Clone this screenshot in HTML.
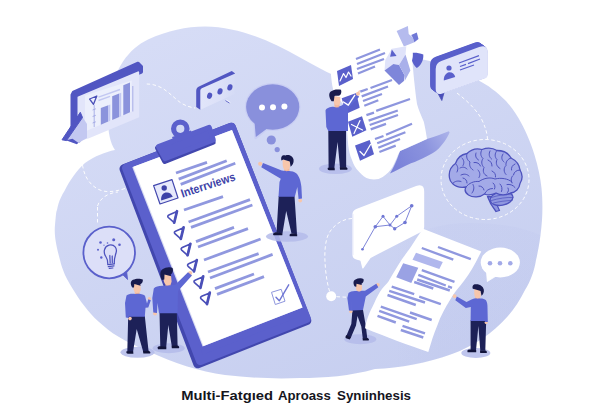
<!DOCTYPE html>
<html>
<head>
<meta charset="utf-8">
<title>Multi-Faceted Approach Synthesis</title>
<style>
html,body{margin:0;padding:0;background:#ffffff;}
body{width:600px;height:420px;overflow:hidden;position:relative;font-family:"Liberation Sans",sans-serif;}
svg{position:absolute;left:0;top:0;display:block;}
text{font-family:"Liberation Sans",sans-serif;}
</style>
</head>
<body>
<svg width="600" height="420" viewBox="0 0 600 420">
<!-- 00_blob.svg -->
<defs>
<linearGradient id="blobg" x1="200" y1="20" x2="358" y2="387" gradientUnits="userSpaceOnUse">
<stop offset="0" stop-color="#d6dcf6"/><stop offset="1" stop-color="#c7cff0"/>
</linearGradient>
<linearGradient id="blob2g" x1="395" y1="0" x2="440" y2="0" gradientUnits="userSpaceOnUse">
<stop offset="0" stop-color="#b4bcea" stop-opacity="0"/><stop offset="1" stop-color="#b4bcea" stop-opacity="0.120"/>
</linearGradient>
</defs>
<g id="blob">
<path d="M115,150 C108,140 106,120 110,95 C115,69 128,49 148,39.500 C168,30.500 186,26.500 205,26.500 C240,27 270,41 300,57.500 C320,68 335,78 350,80 C372,82 395,57 415,58.500 C440,61 460,71 478.600,80.500 C487,84.500 497,92 506,101 C513,109 518,117 521.500,123.500 C526,132 531,143 534.500,155 C538,166 540.500,178 541.500,188 C542.500,198 542.700,210 542,220 C541.300,230 540,240 538.500,248 C537.500,253 537,256 536,260 C534,272 530,282 525,290 C520,300 514.500,308.500 507.500,316.500 C493,333 473,346.500 452,354 C427,363 400,368 375,369 C350,376 325,378 300,378 C275,379 250,378 225,375 C200,372 172,362 150,352 C140,348 132,344 125,340.500 C116,335.500 109,331 102.500,325 C97,320.500 92,315.500 87.500,310 C83,304.500 79,299 75,292.500 C71,286.500 68,281 65,275 C63,270 61,265 60,260 C56,245 54,235 55,225 C56,215 56,212 57,210 C59,200 62,195 65,190 C70,180 77,170 85,163 C95,156 105,152 115,150 Z" fill="url(#blobg)"/>
</g>
<!-- 05_blob2.svg -->
<g id="blob2">
<path d="M395,245 C420,228 445,223 470,223 C497,223 520,226 540.500,235 C539.500,243 538,250 536,260 C534,272 530,282 525,290 C520,300 514.500,308.500 507.500,316.500 C493,333 473,346.500 452,354 C427,363 400,368 395,368 Z" fill="url(#blob2g)"/>
</g>
<!-- 10_dashes.svg -->
<g id="dashes" fill="none" stroke="#ffffff" stroke-width="1" stroke-dasharray="3.500 2.500" stroke-linecap="butt" opacity="0.950">
<!-- chart bubble to clipboard -->
<path d="M87.500,142 C83,150 81,158 82.500,165 C84,176 90,186 100,190 C106,192.500 114,192 125,188.500"/>
<!-- arc near bulb -->
<path d="M97.500,206 C100,198 108,193 118,192"/>
<path d="M97.500,207 L97.500,225"/>
<!-- chart bubble to right -->
<path d="M146.700,84 C153,84 160,86 166,90.700 C172,95 177,100.500 181,103 C186,106 191,107.500 195.300,108"/>
<!-- small dashes left of dots bubble -->
<!-- contact bubble to brain -->
<path d="M457,93 C466,100 475,108 481,118 C485,126 487,132 487.500,139"/>
<!-- brain circle -->
<ellipse cx="485" cy="179.500" rx="44" ry="40"/>
<!-- line chart bubble to node -->
<path d="M352,218.500 C342,219 334,225 329,233 C325,241 324.500,252 325,262 C325.500,272 327,283 329.500,291"/>
<path d="M336.500,296.700 L346,297.200"/>
</g>
<circle cx="331.200" cy="296.300" r="5" fill="#ffffff"/>
<!-- 20_chartbubble.svg -->
<g id="chartbubble">
<!-- dark slab (top + left side) -->
<path d="M73.500,92 L138,63.200 L141.500,66.500 L141.500,72 L79,98 L79,141 L72,138 L72,95 Z" fill="#5156c2" stroke="#5156c2" stroke-width="3" stroke-linejoin="round"/>
<!-- front face -->
<path d="M78.500,97.300 L138.200,72.400 L138.200,116.500 L88,137.500 L78.500,140 Z" fill="#e2e5fa" stroke="#e2e5fa" stroke-width="2" stroke-linejoin="round"/>
<!-- inner panel -->
<path d="M85,95.500 L131.700,80.500 L131.700,111.500 L85,131.500 Z" fill="#eceffc"/>
<!-- light lines -->
<path d="M98.500,97.200 L120,89.500 M98.500,100.500 L110,96.300" stroke="#c3c8f2" stroke-width="1.400" fill="none"/>
<!-- bars -->
<path d="M100.800,108 L108.300,105.200 L108.300,121.600 L100.800,124.800 Z" fill="#8b93dc"/>
<path d="M112.200,96.200 L119.200,93.500 L119.200,117 L112.200,120 Z" fill="#8b93dc"/>
<path d="M123.300,85.200 L130,82.600 L130,112.300 L123.300,115.200 Z" fill="#8b93dc"/>
<path d="M108.300,105.200 L110.300,104.500 L110.300,120.800 L108.300,121.600 Z M119.200,93.500 L121.200,92.800 L121.200,116.200 L119.200,117 Z" fill="#c3c8f2"/>
<!-- axis -->
<path d="M94.200,105 L94.200,127 M92.600,110 L95.800,108.800 M92.600,116.500 L95.800,115.300 M92.600,123 L95.800,121.800 M132.800,86 L132.800,111.500" stroke="#9aa1e2" stroke-width="0.800" fill="none"/>
<!-- check triangle -->
<path d="M89.600,99 L96.800,96 L93.500,104.300 Z" fill="none" stroke="#4a4fb8" stroke-width="1.300" stroke-linejoin="round"/>
<!-- tail -->
<path d="M80.500,114 L64,139.800 L77,143.800 L87,138 L87,124 Z" fill="#c3c8f1"/>
<path d="M80.300,112.300 L62,139.800 L66.500,140.600 L82.500,117.500 Z" fill="#5156c2" stroke="#5156c2" stroke-width="1" stroke-linejoin="round"/>
<path d="M66,140.300 L72.500,138.800 L78.300,142.800 L76.800,144.300 Z" fill="#5156c2"/>
</g>
<!-- 22_dotsbubble.svg -->
<g id="dotsbubble">
<defs>
<linearGradient id="dbg" x1="200" y1="0" x2="236" y2="0" gradientUnits="userSpaceOnUse">
<stop offset="0" stop-color="#e1e5fa" stop-opacity="1"/><stop offset="0.600" stop-color="#dde1f8" stop-opacity="0.900"/><stop offset="1" stop-color="#d8ddf7" stop-opacity="0.300"/>
</linearGradient>
</defs>
<!-- face -->
<path d="M199.500,90.500 Q199.500,88.500 201.500,87.600 L234.600,73.600 L234.600,94 L201,109.600 L199.500,108.500 Z" fill="url(#dbg)"/>
<!-- dark slab: left side + top band -->
<path d="M196.200,91 Q196.200,87.800 199,86.500 L231.800,71 L235.200,73.400 L201.800,88.200 Q200.300,88.900 200.300,90.600 L200.300,109.800 L196.200,107 Z" fill="#5156c2"/>
<ellipse cx="209.600" cy="95.700" rx="2.500" ry="3.200" fill="#5156c2" transform="rotate(18 209.600 95.700)"/>
<ellipse cx="220" cy="91.400" rx="2.500" ry="3.200" fill="#5156c2" transform="rotate(18 220 91.400)"/>
<ellipse cx="229.900" cy="87.400" rx="2.500" ry="3.200" fill="#5156c2" transform="rotate(18 229.900 87.400)"/>
<path d="M225.500,100.600 L229.500,103" stroke="#5156c2" stroke-width="0.900" fill="none"/>
<path d="M226.300,100 L230.300,102.400" stroke="#ffffff" stroke-width="0.700" fill="none"/>
</g>
<!-- 24_roundbubble.svg -->
<g id="roundbubble">
<path d="M254.500,122 L255.500,138 L268.500,127.500 Z" fill="#c9cef3" stroke="#c9cef3" stroke-width="2.400" stroke-linejoin="round"/>
<ellipse cx="272.700" cy="107" rx="27.800" ry="24" fill="#c9cef3"/>
<path d="M254.500,122 L255.800,137 L268.500,127.500 Z" fill="#8990dc"/>
<ellipse cx="272.700" cy="107" rx="26.600" ry="22.800" fill="#8990dc"/>
<circle cx="262" cy="107.600" r="3" fill="#ffffff"/>
<circle cx="273" cy="107.300" r="3" fill="#ffffff"/>
<circle cx="284.400" cy="106.500" r="3" fill="#ffffff"/>
<circle cx="271.300" cy="140" r="4.600" fill="#8990dc"/>
<circle cx="277.200" cy="149.600" r="2.600" fill="#8990dc"/>
</g>
<!-- 30_paper2.svg -->
<g id="paper2">
<defs>
<linearGradient id="curlg" x1="395" y1="165" x2="450" y2="132" gradientUnits="userSpaceOnUse">
<stop offset="0" stop-color="#7a82d9"/><stop offset="0.550" stop-color="#8b93de"/><stop offset="1" stop-color="#adb4ea"/>
</linearGradient>
</defs>
<!-- curl back -->
<path d="M400,151 C410,147 420,142.500 427,139 C436,136 443,133.500 448.800,131.200 L449.600,132.500 C447.500,137 445,141.700 438.800,148.600 C435,152 431,154.500 426.400,156.400 C421,159 416,161.500 411,163.300 C404,166.500 396,171 390,173.400 C393,169 397,160 400,151 Z" fill="url(#curlg)"/>
<!-- sheet -->
<path d="M330,52 L331,75 C331.500,80 332,85 333,89 C335,96 340,100 343,104 C345,109 346,114 346.300,119 C347,128 347.500,137 348.200,145 C349,151 350,156 352,160 C353.500,164.500 355.500,168.500 358.800,171.500 C362,175 365,178 369.700,179 C374,180 379,179.500 382.700,177 C387,174 390,171 392.400,167.200 C394.500,163 396.500,159 397.800,155.200 L400,151 L427,139 C426,132 425,127 423.800,121.700 C421,115 418.500,110 417,104 C415,90 413,70 412,56 L408,30 Z" fill="#ffffff"/>
<!-- boxes -->
<path d="M337,71 L351,65 L353,79 L339,86 Z" fill="#5a60cb"/>
<path d="M340,81 L343.500,73.500 L346,77.500 L348.500,72 L351,76" fill="none" stroke="#ffffff" stroke-width="1.200" stroke-linejoin="round" stroke-linecap="round"/>
<path d="M341.700,98.300 L356.300,93 L359.700,107.700 L346.300,113.700 Z" fill="#5a60cb"/>
<path d="M348,121.700 L362,116.300 L366.400,130.300 L352.300,136.800 Z" fill="#5a60cb"/>
<path d="M351.500,124.500 L362.500,130 M360,120.500 L354,133.500" fill="none" stroke="#ffffff" stroke-width="1.200" stroke-linecap="round"/>
<path d="M355,145.500 L369.700,140 L374,154.200 L360,160.700 Z" fill="#5a60cb"/>
<path d="M360,151.500 L364,155.500 L370.500,144.500" fill="none" stroke="#ffffff" stroke-width="1.300" stroke-linejoin="round" stroke-linecap="round"/>
<!-- lines -->
<g stroke="#8e96de" stroke-width="2.300" fill="none">
<path d="M356,59 L380,49.500 M357,64 L385,53 M357,69 L384,59 M358,73.500 L375,66.500"/>
<path d="M370.500,88 L392,80 M360.300,91.700 L367.700,89 M361.700,96.300 L388,86.500 M363,101 L382,94 M364.300,105.700 L378.300,100.300"/>
<path d="M376.200,110.800 L410,99 M366.400,115.200 L374,112.600 M368.600,120.600 L397.800,110.500 M369.700,125 L398,115 M370.700,129.300 L386,123.800"/>
<path d="M386,134.700 L412,123.800 M375,139 L383.500,136 M377.200,143.300 L405.400,132.300 M378.300,147.700 L400,139 M379.400,152 L395.700,145.600"/>
</g>
<!-- 3D arrow thing -->
<path d="M396.600,30.900 L407.900,26 L408.700,34.100 L412.800,37.400 L414.400,42.200 L403.900,46.500 L400.700,39.800 Z" fill="#b5bbee"/>
<path d="M412.800,37.400 L411.200,34.900 L416.800,32.500 L418.500,39 L414.400,42.200 Z" fill="#7078d6"/>
<path d="M391.800,48.700 L406.300,46.300 L405.500,54.400 L399,64.900 L393.400,64.100 L384.500,70.500 L385.300,60 Z" fill="#e0e3fa"/>
<path d="M391.800,49.500 L396.600,56 L390.100,56.800 Z" fill="#5a60cb"/>
<path d="M384.500,70.500 L393.400,64.100 L399,64.900 L404.700,75.400 L403.900,81.100 L399,85.100 Z" fill="#7e86da"/>
<path d="M399,64.900 L405.500,54.400 L410.400,70.500 L404.700,81.100 L404.700,75.400 Z" fill="#a9b0ea"/>
<path d="M412.800,52.700 C416.500,52.500 420,53.200 423.300,54.400 C423.500,57.500 423,60 421.700,62.500 C420.500,64.800 418.800,66.700 416.800,68.100 C414.500,66 413,63.500 412,60.800 C412.800,58 413,55.500 412.800,52.700 Z" fill="#5a60cb"/>
</g>
<!-- 30z_man2.svg -->
<g id="man2">
<ellipse cx="335.400" cy="168.700" rx="16.500" ry="5.300" fill="#b4bbea" opacity="0.850"/>
<path d="M328.300,130.500 L346,130.500 L346.200,167.800 L340,167.800 L337.600,142 L334.300,168.300 L328.600,168.300 Z" fill="#1d2158"/>
<path d="M327.800,167.800 L334.600,167.800 L334.800,170.300 L329.300,170.300 C327.800,170.300 327.300,169 327.800,167.800 Z" fill="#12143a"/>
<path d="M339.800,167.300 L346.300,167.300 C347.400,168 348.100,169 347.100,169.800 L340,169.800 Z" fill="#12143a"/>
<path d="M334.300,102.500 L339.300,102 L339.800,108.500 L334.500,108.500 Z" fill="#f2b79b"/>
<path d="M325.500,110.500 C326.500,108 330,106.800 333.500,106.800 C336,107.800 338.500,107.500 341,106.500 L348,108 L348,131 L328.300,131 L326.300,127 Z" fill="#5d67d3"/>
<path d="M333.300,96 L340.300,97 L340.300,102 C340,104.500 338.300,105.600 336.500,105.300 C334.800,105 333.800,103 333.500,100 Z" fill="#f7c6ab"/>
<path d="M331.600,101.300 C329,97.500 328.300,93.500 330.800,91.500 C333.500,89.300 338,89 341,89.800 C341.800,92 341.200,94.500 339.500,95.500 C338,96.200 336,95.500 334.500,96 L333.800,101.300 Z" fill="#181b4d"/>
</g>
<!-- 31_man2arm.svg -->
<g id="man2arm">
<path d="M338.500,106.800 L341.700,105.600 L356.800,94.600 L359.200,96.800 L346.500,110.300 L343,112 Z" fill="#5d67d3"/>
<path d="M343.500,102 L348.300,105.200 L354.700,95.300" fill="none" stroke="#ffffff" stroke-width="1.400" stroke-linejoin="round" stroke-linecap="round"/>
<circle cx="358" cy="93.800" r="2" fill="#f7c6ab"/>
<path d="M358,93.800 L359.300,91" stroke="#f7c6ab" stroke-width="1.400" stroke-linecap="round" fill="none"/>
</g>
<!-- 32_contact.svg -->
<g id="contact">
<defs><path id="cface" d="M435.7,68.9 Q435.7,62.9 441.3,60.9 L479.2,47.1 Q487.9,43.9 487.9,53.2 L487.9,73.9 Q487.9,77.4 484.6,78.6 L442.4,93.5 Q435.7,95.9 435.7,88.8 Z"/></defs>
<!-- tail -->
<path d="M437.500,92.500 L444.500,91 L441.800,100.500 Z" fill="#4a4fb8" stroke="#4a4fb8" stroke-width="0.800" stroke-linejoin="round"/>
<!-- dark slab (extrusion) -->
<use href="#cface" transform="translate(-5.60,-4.20)" fill="#5a60cb"/>
<use href="#cface" transform="translate(-5.13,-3.85)" fill="#5a60cb"/>
<use href="#cface" transform="translate(-4.67,-3.50)" fill="#5a60cb"/>
<use href="#cface" transform="translate(-4.20,-3.15)" fill="#5a60cb"/>
<use href="#cface" transform="translate(-3.73,-2.80)" fill="#5a60cb"/>
<use href="#cface" transform="translate(-3.27,-2.45)" fill="#5a60cb"/>
<use href="#cface" transform="translate(-2.80,-2.10)" fill="#5a60cb"/>
<use href="#cface" transform="translate(-2.33,-1.75)" fill="#5a60cb"/>
<use href="#cface" transform="translate(-1.87,-1.40)" fill="#5a60cb"/>
<use href="#cface" transform="translate(-1.40,-1.05)" fill="#5a60cb"/>
<use href="#cface" transform="translate(-0.93,-0.70)" fill="#5a60cb"/>
<use href="#cface" transform="translate(-0.47,-0.35)" fill="#5a60cb"/>
<!-- face -->
<use href="#cface" fill="#e0e4fa"/>
<!-- avatar -->
<circle cx="449" cy="68" r="2.600" fill="#5a60cb"/>
<path d="M443.800,80.400 C443.600,76 446,73 449,72.300 C452,72 454.600,74 455.200,77 Z" fill="#5a60cb"/>
<!-- lines -->
<path d="M459,63 L479,55.600 M460,66.500 L466,64.400 M468,63.600 L480,59 M460,70 L474,65" stroke="#5a60cb" stroke-width="1.200" fill="none"/>
</g>
<!-- 34_brain.svg -->
<g id="brain" stroke="#4d52bd" stroke-width="1.300" stroke-linejoin="round" stroke-linecap="round">
<!-- stem -->
<path d="M487.500,196.500 C489,201 492,206.500 496,211.500 L499.500,210.500 C497,206 495.500,201.500 495,197 Z" fill="#8f97e0"/>
<!-- cerebellum -->
<ellipse cx="501.500" cy="198.500" rx="11.500" ry="6.800" fill="#8f97e0" transform="rotate(-10 501.500 198.500)"/>
<path d="M491.500,197.500 C497,195.500 506,194 512,194 M491.500,200.500 C498,198.500 507,197 513,197.500 M493.500,203 C499,201.500 507,200.500 512,200.500" fill="none" stroke-width="0.700"/>
<!-- cerebrum -->
<path d="M449.500,178 C448.500,172 451,166.500 455.500,163.500 C457,158.500 461.500,154.500 467,153.500 C471,149.500 477,148 482,149.500 C487,147.500 493,148 497,150.500 C503,150.500 508.500,153.500 511,158 C516,160.500 519.500,165 520,170 C522.500,174 522.500,179.500 520,183.500 C519.500,188.500 515.500,192.500 510.500,193 C506,195.500 500,195.500 496,193 C492,195 488,195.500 484.500,194 C480,197.500 473,198 468.500,195 C465,192.500 464.500,189.500 466,187 C461,188 455.500,186.500 452.500,183.500 C450.500,182 449.800,180 449.500,178 Z" fill="#a3aae8"/>
<!-- folds -->
<g fill="none" stroke-width="1">
<path d="M466,187 C469,183 474,181 479,181.500 C484,178 490,177 495,179 C501,177.500 508,178.500 512,182"/>
<path d="M455.500,163.500 C458,166 458.500,169 457,172 M467,153.500 C466,157 467,160 470,162 C469,165 470,168 473,170 M482,149.500 C480,153 480.500,156 483,158.500 C481,161.500 481.500,165 484,167.500 C482.500,171 483.500,174.500 487,176"/>
<path d="M497,150.500 C494.500,153.500 494.500,157 497,159.500 C495.500,163 496.500,166.500 500,168.500 M511,158 C507.500,159 505.500,162 506,165.500 C503.500,168 503.500,172 506,174.500 M520,170 C516.500,170 514,172 513.500,175 C511,177 510.500,180.500 512,183"/>
<path d="M452.500,183.500 C455,181 458,180.500 461,181.500 M461,175 C464,173.500 467,174 469,176 M473,184.500 C474.500,187.500 474,190.500 472,193 M484.500,194 C486,190.500 489,188.500 492.500,188.500 M500,184 C502,186 502.500,189 501.500,191.500 M488,160 C490.500,161 492,163 492,166 M474,162.500 C477,162 479.500,163.500 480.500,166 M460,168 C462.500,166.500 465,167 467,169 M507,184.500 C510,184 513,185 515,187.500"/>
<path d="M462,158 C464,160 464.500,163 463,165.500 M476,153 C475,156 476,158.500 478.500,160 M490,151 C488.500,154 489,157 491.500,159 M503,154 C501,157 501.500,160 504,162 M515,164 C512.500,165 511,167.500 511.500,170 M478,170 C480,172 480.500,175 479,177.500 M492,171 C494.500,172 496,174.500 495.500,177 M463,178 C465.500,178.500 467,180.500 467,183 M479,186 C481.500,186 483.500,187.500 484,190 M493,183 C495,184.500 495.500,187 494.500,189 M508,188 C509,190 508.500,192 507,193"/>
</g>
</g>
<!-- 40_bulb.svg -->
<g id="bulb">
<path d="M121.500,273.500 L127.600,279.500 L126.500,270.500 Z" fill="#5a60cb" stroke="#5a60cb" stroke-width="0.800" stroke-linejoin="round"/>
<circle cx="109.200" cy="252.500" r="25.800" fill="#dcdff8" stroke="#5a60cb" stroke-width="1.800"/>
<g fill="none" stroke="#4d52bd" stroke-width="1.250" stroke-linecap="round" stroke-linejoin="round">
<path d="M107.800,264 C107.800,260.500 107.200,258.500 105.800,256.500 C103,252.500 104,246.500 109,245.200 C114.500,244 117.500,248.500 116,253 C115,256 114.200,259.500 114.300,263.500"/>
<path d="M107.800,264.600 L114.400,263.800 M108.300,266.600 L114,265.900 M109.300,268.400 L112.800,268"/>
<path d="M110.200,263 L109.800,255.500 M112.300,262.800 L112.200,256"/>
</g>
<g fill="#5a60cb">
<circle cx="100.500" cy="242.500" r="1.300"/><circle cx="107.500" cy="243" r="0.800"/><circle cx="113.700" cy="239.700" r="1.500"/><circle cx="119.500" cy="244.700" r="1.300"/><circle cx="98" cy="249.700" r="1"/><circle cx="101.300" cy="257.500" r="1.200"/><circle cx="104" cy="245.200" r="0.600"/>
</g>
</g>
<!-- 50_clipboard.svg -->
<g id="clipboard">
<!-- board dark side -->
<path d="M124,168.800 L231.300,127.200 L306.800,320.600 L197.800,363.800 Z" fill="#4247ae" stroke="#4247ae" stroke-width="9" stroke-linejoin="round"/>
<!-- board face -->
<path d="M126.500,168 L231.300,127.200 L306.300,318.600 L200.300,360.500 Z" fill="#5b60cc" stroke="#5b60cc" stroke-width="9" stroke-linejoin="round"/>
<!-- paper -->
<path d="M132.300,167.300 L232,130 L302.500,307.500 L202.600,346.600 Z" fill="#d9dcf3"/>
<path d="M133.300,166.700 L232,130 L302.500,307.500 L203.500,346 Z" fill="#ffffff"/>
<!-- clip -->
<g>
<circle cx="180.300" cy="128.800" r="6.700" fill="none" stroke="#5b60cc" stroke-width="5.200"/>
<path d="M172,137 L191,130.500 L195,141 L176,148 Z" fill="#5b60cc"/>
<path d="M157.600,148 L208.600,128.600 L213.200,142.300 L164.800,161.500 Z" fill="#4247ae" stroke="#4247ae" stroke-width="5" stroke-linejoin="round"/>
<path d="M158.400,146.600 L209.200,127.400 L213.300,139.800 L165,158.600 Z" fill="#5b60cc" stroke="#5b60cc" stroke-width="5" stroke-linejoin="round"/>
</g>
<!-- text lines -->
<g stroke="#9098df" stroke-width="2.800" stroke-linecap="butt" fill="none">
<line x1="176" y1="173" x2="207" y2="162.400"/>
<line x1="178.700" y1="179.100" x2="226.700" y2="160.700"/>
<line x1="180.700" y1="184.400" x2="235.300" y2="163.300"/>
<line x1="184" y1="210" x2="223" y2="196.600"/>
<line x1="188.600" y1="222" x2="250" y2="199.600"/>
<line x1="191" y1="227.400" x2="252.400" y2="205"/>
<line x1="196" y1="241.600" x2="234" y2="227.400"/>
<line x1="198" y1="247" x2="248" y2="228.600"/>
<line x1="204" y1="260" x2="260.600" y2="239"/>
<line x1="208" y1="272" x2="258.600" y2="253.600"/>
<line x1="210" y1="278" x2="272.600" y2="254.400"/>
<line x1="215" y1="288.600" x2="254" y2="274"/>
<line x1="217" y1="294.400" x2="264" y2="276.600"/>
</g>
<!-- avatar box -->
<path d="M153.600,185.600 L172,179.600 L178,198 L160,204 Z" fill="#e6e9fb" stroke="#4247ae" stroke-width="1.200" stroke-linejoin="round"/>
<circle cx="164.200" cy="188" r="2.700" fill="#3d42a8"/>
<path d="M161.200,200.600 C160.600,196.500 162.500,193.500 165.500,192.600 C168.500,191.800 171.300,193.300 172.800,196.700 Z" fill="#3d42a8"/>
<!-- title -->
<text x="0" y="0" transform="translate(182.400,197.800) rotate(-18.300)" font-size="12" font-weight="bold" fill="#3d42a8" textLength="56.500" lengthAdjust="spacingAndGlyphs">Interrviews</text>
<!-- bullets -->
<g fill="#ffffff" stroke="#4a4fb8" stroke-linejoin="round" stroke-linecap="round">
<path d="M-3,-1.900 L4.500,-5.100 L1.800,6.100 L-4.100,0.900 Q-5.600,-0.800 -3,-1.900 Z" stroke-width="1.600" transform="translate(172.4,216.6)"/>
<path d="M4.600,-5.400 L1.800,6.100" stroke-width="2.700" transform="translate(172.4,216.6)"/>
<path d="M-3,-1.900 L4.500,-5.100 L1.800,6.100 L-4.100,0.900 Q-5.600,-0.800 -3,-1.900 Z" stroke-width="1.600" transform="translate(179.0,232.8)"/>
<path d="M4.600,-5.400 L1.800,6.100" stroke-width="2.700" transform="translate(179.0,232.8)"/>
<path d="M-3,-1.900 L4.500,-5.100 L1.800,6.100 L-4.100,0.900 Q-5.600,-0.800 -3,-1.900 Z" stroke-width="1.600" transform="translate(185.8,249.2)"/>
<path d="M4.600,-5.400 L1.800,6.100" stroke-width="2.700" transform="translate(185.8,249.2)"/>
<path d="M-3,-1.900 L4.500,-5.100 L1.800,6.100 L-4.100,0.900 Q-5.600,-0.800 -3,-1.900 Z" stroke-width="1.600" transform="translate(192.2,265.4)"/>
<path d="M4.600,-5.400 L1.800,6.100" stroke-width="2.700" transform="translate(192.2,265.4)"/>
<path d="M-3,-1.900 L4.500,-5.100 L1.800,6.100 L-4.100,0.900 Q-5.600,-0.800 -3,-1.900 Z" stroke-width="1.600" transform="translate(198.6,281.8)"/>
<path d="M4.600,-5.400 L1.800,6.100" stroke-width="2.700" transform="translate(198.6,281.8)"/>
<path d="M-3,-1.900 L4.500,-5.100 L1.800,6.100 L-4.100,0.900 Q-5.600,-0.800 -3,-1.900 Z" stroke-width="1.600" transform="translate(205.2,298.0)"/>
<path d="M4.600,-5.400 L1.800,6.100" stroke-width="2.700" transform="translate(205.2,298.0)"/>
</g>
<!-- checkbox -->
<path d="M271.500,292.300 L281.200,289.300 L285,301.200 L275.300,304.500 Z" fill="none" stroke="#8e96dd" stroke-width="1"/>
<path d="M276,297.200 L279.300,300.800 L288.700,284.800" fill="none" stroke="#6f76d4" stroke-width="1.400" stroke-linecap="round" stroke-linejoin="round"/>
</g>
<!-- 60_people.svg -->
<g id="people">
<!-- ===== man1 (center, pointing at clipboard) ===== -->
<ellipse cx="287" cy="236.500" rx="21" ry="5.200" fill="#b4bbea" opacity="0.850"/>
<g>
<path d="M278.700,196 L294.500,196 L297,234.300 L291.500,233.600 L286.200,211 L282.500,233.300 L276.500,232.700 Z" fill="#1d2158"/>
<path d="M273,234.300 C273.500,232.500 276,232 278,232.500 L282.500,233.300 L282.300,235.300 L273.500,235.300 Z" fill="#12143a"/>
<path d="M289.500,235 C290,233.500 292,233.200 294,233.600 L297.200,234.300 L297.200,236.200 L289.800,236.200 Z" fill="#12143a"/>
<circle cx="260.200" cy="163.800" r="2.100" fill="#f7c6ab"/>
<circle cx="300.200" cy="200.600" r="1.900" fill="#f7c6ab"/>
<path d="M284.300,166.500 L289.300,166.500 L289.600,172.500 L284.300,172.500 Z" fill="#f2b79b"/>
<path d="M279,172.300 C281,170.800 284,170.400 286.500,171.300 C289.500,170.500 293.500,171.200 296.200,173.300 C299.200,176 300.700,181 301.400,186.700 L302,198.600 L298.600,199 L297.300,187 L294.800,196.800 L278.500,196.800 L279.500,182 L280.800,178.800 L261.300,167.200 L263,163 L283,171 Z" fill="#5d67d3"/>
<path d="M282.600,159.500 L289.600,161 L290.100,166 C289.900,168.500 288.100,170 286.100,170 C284.100,170 282.900,168 282.700,165 Z" fill="#f7c6ab"/>
<path d="M281.500,160.600 C280.300,156.500 282.500,154.400 285.500,155.400 C288.500,153.900 293,155.900 293.600,159.800 C294,163 292.300,165.600 290.600,166.800 L289.800,161.600 L283.300,159.600 Z" fill="#181b4d"/>
</g>
<!-- ===== man5 (bottom-left small) ===== -->
<ellipse cx="137.500" cy="352.300" rx="17" ry="5.500" fill="#b4bbea" opacity="0.850"/>
<g>
<path d="M128.200,316 L144.800,316 L148.600,351.500 L143.200,351.800 L136.700,329 L133,352 L127.300,352 Z" fill="#1d2158"/>
<path d="M126.500,351.200 L133.200,351.200 L133.400,353.800 L128,353.800 C126.500,353.800 126,352.300 126.500,351.200 Z" fill="#12143a"/>
<path d="M143,351 L148.800,350.700 C150.300,351.500 151,352.700 150,353.500 L143.300,353.500 Z" fill="#12143a"/>
<circle cx="130" cy="318.600" r="1.800" fill="#f7c6ab"/>
<circle cx="149.400" cy="298.800" r="1.700" fill="#f7c6ab"/>
<path d="M134.800,290 L139.300,290 L139.600,296 L134.800,296 Z" fill="#f2b79b"/>
<path d="M126.500,295.500 C128.500,293.800 132,293.300 135.500,294 C138.500,293.500 142.500,294 145,295.800 L147,303.500 L148.300,299.300 L150.800,300.300 L148.300,307.500 L145.500,307.800 L144.800,316.800 L128.200,316.800 L128,308 L128.800,318 L125.800,317.500 L125,303 Z" fill="#5d67d3"/>
<path d="M133.300,283 L140.300,284.500 L140.800,289.500 C140.600,292 139,293 137,293 C135,293 133.600,291 133.400,288 Z" fill="#f7c6ab"/>
<path d="M132.300,287.500 C130,284 130.500,280.800 133,279.800 C136,278.300 140.500,278.300 142.800,279.600 C143.200,281.800 142,283.500 140.300,284.300 L140.600,285.800 L134.300,284 L134,287.500 Z" fill="#181b4d"/>
</g>
<!-- ===== man6 (bottom-left big, pointing at clipboard) ===== -->
<ellipse cx="168.700" cy="348.300" rx="16" ry="5" fill="#b4bbea" opacity="0.850"/>
<g>
<path d="M159.500,312.500 L176.800,312.500 L177.600,346 L171.800,346.200 L168.300,325 L166.200,347.300 L160.300,347.300 Z" fill="#1d2158"/>
<path d="M157.500,347.500 C158,346.200 159.500,346 161,346.300 L166.300,346.800 L166.300,349.300 L158,349.300 Z" fill="#12143a"/>
<path d="M171.600,345.700 L177.700,345.500 C179,346.200 179.800,347.300 178.800,348.200 L171.800,348.200 Z" fill="#12143a"/>
<circle cx="190.200" cy="273" r="2.100" fill="#f7c6ab"/>
<circle cx="155" cy="313.500" r="2" fill="#f7c6ab"/>
<path d="M165.500,281 L170.500,281 L170.800,287 L165.500,287 Z" fill="#f2b79b"/>
<path d="M153.800,288.500 C155.500,286.300 160,285.300 164.500,285.800 C168,285.500 172,285 175,285 L188,272.300 L192,275.600 L178,291 L177.600,313.300 L159,313.300 L157.500,303 L157,313 L153.300,312.500 L152.300,298 Z" fill="#5d67d3"/>
<path d="M163.200,273.800 L171,275.300 L171.600,281.500 C171.300,284.300 169.500,285.300 167.500,285.200 C165.300,285 164,283 163.600,280 Z" fill="#f7c6ab"/>
<path d="M162,280 C159.500,276 159.800,271 162.500,269.300 C165.500,267 170.500,266.600 172.700,268.300 C173.500,271 172.500,273.300 170.700,274.600 L171.200,276.200 L164.500,274.500 L164.300,279.500 Z" fill="#181b4d"/>
</g>
</g>
<!-- 70_linebubble.svg -->
<g id="linebubble">
<path d="M352.400,214.600 Q352.400,210.500 356.300,209 L416.100,186.100 Q424.200,183 424.200,191.700 L424.200,226.500 Q424.200,230.200 421,231.900 L370.600,257.900 L363.600,267.900 Q362.600,269.400 362.200,267.700 L360.500,261.100 Q360.400,260.500 359.800,260.400 L356.200,259.400 Q352.400,258.500 352.400,254.600 Z" fill="#ffffff"/>
<path d="M352.900,214 L352.900,255" stroke="#e3e6f9" stroke-width="1" fill="none"/>
<g stroke="#6f77d4" stroke-width="0.900" fill="none" stroke-linejoin="round">
<path d="M362.500,249.200 L375.300,226.700 L383,216.300 L390,225 L396.700,216.300 L411.700,205.800 L405,222.500 L394.700,228.700 L390,225 L375.300,226.700"/>
</g>
<g fill="#6f77d4">
<circle cx="362.500" cy="249.200" r="1.300"/><circle cx="375.300" cy="226.700" r="1.800"/><circle cx="383" cy="216.300" r="1.500"/><circle cx="390" cy="225" r="1.500"/><circle cx="396.700" cy="216.300" r="1.500"/><circle cx="411.700" cy="205.800" r="1.800"/><circle cx="405" cy="222.500" r="1.800"/><circle cx="394.700" cy="228.700" r="1.700"/>
</g>
</g>
<!-- 71_man3.svg -->
<g id="man3">
<!-- ===== man3 (walking, left of paper3) ===== -->
<ellipse cx="360.300" cy="339.300" rx="16" ry="5" fill="#b4bbea" opacity="0.850"/>
<g>
<path d="M352.500,309.500 L362.800,308.800 L365.800,326 L367.300,338.500 L362.800,338.700 L361.300,326.500 L357.500,316 L356,325.500 L350.800,337.800 L346.500,335.600 L351.300,324 Z" fill="#1d2158"/>
<path d="M346.500,335 L351,337.300 L349.800,339.600 L346,338.300 C345,337.500 345.500,336 346.500,335 Z" fill="#12143a"/>
<path d="M362.600,338.200 L367.500,338 C368.800,338.700 369.500,339.800 368.500,340.600 L362.800,340.600 Z" fill="#12143a"/>
<circle cx="377.800" cy="284.800" r="1.900" fill="#f7c6ab"/>
<circle cx="350.800" cy="311.500" r="1.700" fill="#f7c6ab"/>
<path d="M356.800,288.500 L360.800,288.500 L361,293 L356.800,293 Z" fill="#f2b79b"/>
<path d="M348.500,293 C350,291.300 353.500,290.600 356.500,291 C359,290.600 362.500,290.500 365,290.800 L376.300,283.800 L378.300,287.300 L365.800,296.500 L363,310 L352,310.500 L351.300,302 L352,310.800 L349,310.500 L347.300,298 Z" fill="#5d67d3"/>
<path d="M355.800,283 L361.800,284.500 L362,288.800 C361.800,290.800 360.300,291.700 358.800,291.600 C357,291.500 356,289.800 355.900,287.500 Z" fill="#f7c6ab"/>
<path d="M354.800,286.500 C352.800,283.500 353.200,280.500 355.500,279.500 C358,278 361.800,278 363.600,279.300 C364,281.300 363,283 361.500,283.800 L361.800,285 L356.500,283.800 L356.300,286.800 Z" fill="#181b4d"/>
</g>
</g>
<!-- 72_paper3.svg -->
<g id="paper3">
<path d="M423,228.800 L481.300,251.500 C478,258 475,264 472,269 C467,277.500 461.500,284 456.700,290 C454,293.500 452,296.500 450,300 C447.500,304 445.500,307.500 443.300,311.700 C441,316 439,320.500 437.500,325 C435.500,329.500 434,334 432.500,338.300 L428.300,352 C410,346 385,336.500 365,328.300 C365.500,324.500 366.500,321.500 367.500,318.300 C369,314 370.500,310.500 372.500,306.700 C375,301.500 377,296.500 380,291.700 C382.500,288 385.500,285 388.300,281.700 C391.500,276 395,270.500 398.300,265 C402,259 406,253.500 410,248.300 C414,242 418.500,235 423,228.800 Z" fill="#ffffff"/>
<path d="M416,252.700 L442.800,262 L439.300,269 L412.500,259.700 Z" fill="#b0b7ed"/>
<path d="M403.200,263.200 L418.300,267.800 L411.300,283 L396.200,277.200 Z" fill="#9aa2e4"/>
<g stroke="#9098df" stroke-width="2.400" fill="none">
<path d="M421.800,248 L453.300,259.700 M438,247 L470.800,259.200"/>
<path d="M421.800,270.200 L454.500,281.800 M418.300,274.800 L445.800,285.500 M448,286.300 L452,287.800 M417.200,279.500 L449.800,290.500 M414.200,282 L433.300,288.500"/>
<path d="M391.700,286.700 L414.200,294.200 M389.200,290.800 L425,302.500 M387.500,295 L415.800,305 M419.200,296.700 L440.800,304.200"/>
<path d="M380.800,306.700 L416.700,319.200 M379.200,310.800 L409.200,321.700 M410,312.500 L431.700,320 M377.500,315.800 L395.800,322.500"/>
<path d="M402.500,325.800 L425,333.300 M400.800,330 L423.300,337.500"/>
</g>
</g>
<!-- 74_people2.svg -->
<g id="people2">
<!-- ===== man4 (right of paper3) ===== -->
<ellipse cx="475.800" cy="353" rx="14.500" ry="5" fill="#b4bbea" opacity="0.850"/>
<g>
<path d="M470.600,320.300 L486.200,320.300 L485.300,350.800 L480.300,350.800 L478.400,326 L476,350.300 L470.600,350.300 Z" fill="#1d2158"/>
<path d="M467.300,350.800 C467.800,349.500 469.300,349.300 470.800,349.600 L476.200,350 L476.200,352.300 L467.600,352.300 Z" fill="#12143a"/>
<path d="M480,350.500 L485.500,350.500 C486.800,351.200 487.500,352.300 486.500,353.100 L480.200,353.100 Z" fill="#12143a"/>
<circle cx="454.600" cy="296.200" r="1.900" fill="#f7c6ab"/>
<circle cx="486.200" cy="322.500" r="1.600" fill="#f7c6ab"/>
<path d="M475.300,295.500 L479.600,295.500 L479.800,300.500 L475.300,300.500 Z" fill="#f2b79b"/>
<path d="M471.500,299.600 C474,298.300 477,298 479.500,298.600 C482,298.300 484.500,299 486,300.300 C487.300,302.500 487.500,305 487.500,308 L487.800,322 L485,322 L484.800,310 L485.900,321 L470.600,321 L470.800,307 L465.800,308 L455.300,300.300 L456.800,296.600 L466.500,302 Z" fill="#5d67d3"/>
<path d="M474.200,288.500 L480.500,290.500 L480.800,295.500 C480.600,297.800 479,298.600 477.300,298.500 C475.500,298.300 474.400,296.500 474.300,294 Z" fill="#f7c6ab"/>
<path d="M472.800,288.800 C471.800,286 473.500,284 476,284.300 C479,283.800 483,286 483.800,289.500 C484.300,292.300 483,294.800 481.500,295.800 L480.600,291 L474.800,289.200 Z" fill="#181b4d"/>
</g>
</g>
<!-- 76_whitebubble.svg -->
<g id="whitebubble">
<path d="M486.500,271.500 L487.300,281.500 L497,275.500 Z" fill="#ffffff" stroke="#ffffff" stroke-width="0.800" stroke-linejoin="round"/>
<ellipse cx="500.300" cy="262.500" rx="19.600" ry="15" fill="#ffffff"/>
<circle cx="490" cy="263.300" r="2.300" fill="#a3aae8"/>
<circle cx="500" cy="263.300" r="2.300" fill="#a3aae8"/>
<circle cx="510.300" cy="263.300" r="2.300" fill="#a3aae8"/>
</g>
<!-- 99_caption.svg -->
<g id="caption" font-size="13" font-weight="bold" fill="#15151d">
<text x="181.200" y="399.500" textLength="91.800" lengthAdjust="spacingAndGlyphs">Multi-Fatgıed</text>
<text x="278" y="399.500" textLength="52.800" lengthAdjust="spacingAndGlyphs">Aproass</text>
<text x="337" y="399.500" textLength="74" lengthAdjust="spacingAndGlyphs">Synıinhesis</text>
</g>
</svg>
</body>
</html>
